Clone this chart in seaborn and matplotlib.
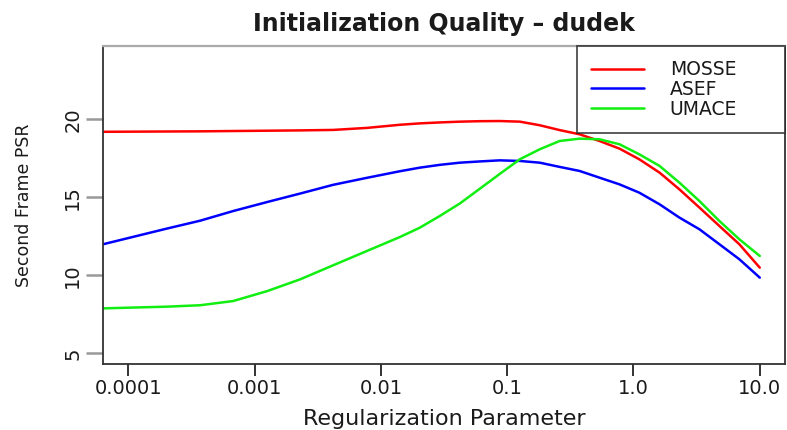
import matplotlib
matplotlib.use("Agg")
import matplotlib.pyplot as plt
import pandas as pd
import seaborn as sns

# values (x is the regularization parameter)
reg_param = [6.3e-5, 2.03e-4, 3.7e-4, 6.76e-4, 1.26e-3, 2.29e-3, 4.18e-3, 7.75e-3,
             0.0141, 0.0203, 0.0292, 0.0421, 0.0607, 0.0873, 0.126, 0.181, 0.26, 0.374,
             0.538, 0.775, 1.11, 1.61, 2.31, 3.33, 4.79, 6.89, 10.0]
mosse = [19.2, 19.22, 19.23, 19.25, 19.27, 19.29, 19.32, 19.45,
         19.65, 19.74, 19.8, 19.85, 19.88, 19.89, 19.85, 19.62, 19.31, 19.04,
         18.61, 18.12, 17.44, 16.58, 15.51, 14.34, 13.16, 11.99, 10.49]
asef = [11.99, 13.0, 13.5, 14.12, 14.7, 15.24, 15.8, 16.25,
        16.67, 16.9, 17.08, 17.22, 17.3, 17.37, 17.33, 17.22, 16.95, 16.69,
        16.26, 15.83, 15.3, 14.55, 13.7, 12.95, 11.99, 11.03, 9.85]
umace = [7.88, 7.99, 8.08, 8.35, 8.99, 9.74, 10.64, 11.56,
         12.45, 13.05, 13.8, 14.6, 15.55, 16.5, 17.44, 18.08, 18.61, 18.76,
         18.72, 18.4, 17.76, 17.01, 15.94, 14.76, 13.48, 12.31, 11.24]

x_ticks = [1e-4, 1e-3, 1e-2, 1e-1, 1.0, 10.0]
x_tick_labels = ["0.0001", "0.001", "0.01", "0.1", "1.0", "10.0"]
y_ticks = [5, 10, 15, 20]

df = pd.DataFrame({
    "reg": reg_param * 3,
    "psr": mosse + asef + umace,
    "method": ["MOSSE"] * len(mosse) + ["ASEF"] * len(asef) + ["UMACE"] * len(umace),
})

sns.set_style("ticks")
plt.rcParams["font.family"] = ["DejaVu Sans"]
plt.rcParams["text.color"] = "#1a1a1a"
plt.rcParams["xtick.labelcolor"] = "#1a1a1a"
plt.rcParams["ytick.labelcolor"] = "#1a1a1a"
plt.rcParams["axes.labelcolor"] = "#1a1a1a"

fig = plt.figure(figsize=(7.87, 4.30), dpi=100)
ax = fig.add_axes([0.131, 0.153, 0.8665, 0.740])

sns.lineplot(data=df, x="reg", y="psr", hue="method",
             palette={"MOSSE": "#ff0000", "ASEF": "#0000ff", "UMACE": "#11ee11"},
             linewidth=1.8, ax=ax, sort=True, estimator=None)

ax.set_xscale("log")
ax.set_xlim(10 ** -4.2, 10 ** 1.2)
ax.set_ylim(4.3, 24.7)
ax.set_xticks(x_ticks)
ax.set_xticklabels(x_tick_labels, fontsize=14)
ax.minorticks_off()
ax.set_yticks(y_ticks)
ax.set_yticklabels([str(v) for v in y_ticks], fontsize=14, rotation=90, va="center")
ax.tick_params(axis="x", length=8.5, width=1.3, color="#222222", pad=2)
ax.tick_params(axis="y", length=12, width=1.8, color="#999999", pad=3)

for side in ["left", "bottom", "right"]:
    ax.spines[side].set_color("#333333")
    ax.spines[side].set_linewidth(1.3)
ax.spines["top"].set_color("#aaaaaa")
ax.spines["top"].set_linewidth(1.6)

ax.set_xlabel("Regularization Parameter", fontsize=16, labelpad=8)
ax.set_ylabel("Second Frame PSR", fontsize=12.5)
ax.yaxis.set_label_coords(-0.103, 0.5)
ax.set_title("Initialization Quality \u2013 dudek", fontsize=17, fontweight="bold", pad=11)

leg = ax.legend(loc="upper right", bbox_to_anchor=(0.695, 0.0, 0.305, 1.0), mode="expand",
                borderaxespad=0, fancybox=False, frameon=True, fontsize=13.5,
                handlelength=2.8, handletextpad=1.4, labelspacing=0.05, borderpad=0.75)
leg.get_frame().set_edgecolor("#222222")
leg.get_frame().set_linewidth(1.3)
for line in leg.get_lines():
    line.set_linewidth(1.8)

fig.savefig("out.png", dpi=100)
plt.close(fig)
